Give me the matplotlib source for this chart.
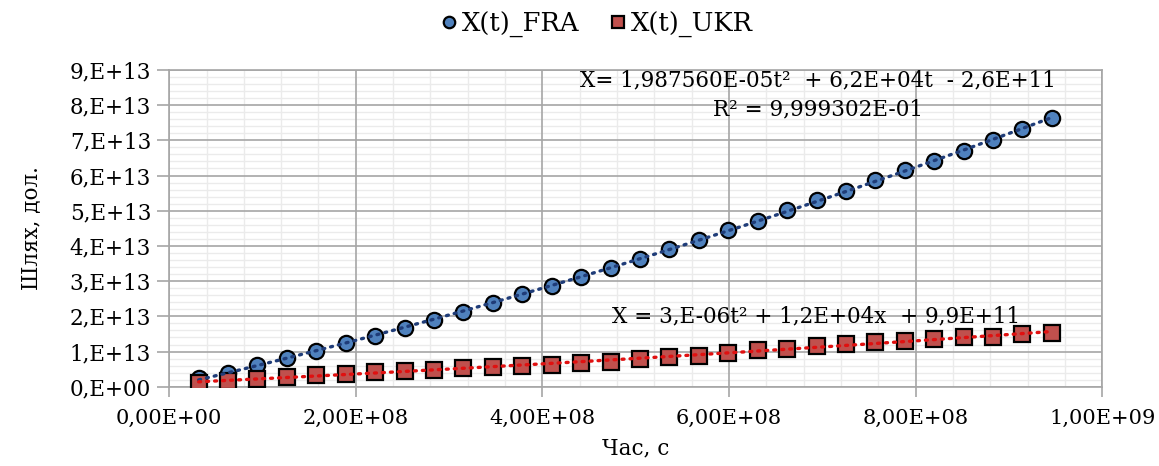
# -*- coding: utf-8 -*-
import numpy as np
import matplotlib
matplotlib.use('Agg')
import matplotlib.pyplot as plt
from matplotlib.ticker import FuncFormatter, MultipleLocator

plt.rcParams['font.family'] = ['DejaVu Serif']
FS = 15.5

#%% data
year_n = np.arange(1, 31)
t_sec = year_n * 31536000.0   # time, s

x_fra = [0.24, 0.40, 0.63, 0.83, 1.02, 1.23, 1.43, 1.66, 1.90, 2.13,
         2.37, 2.63, 2.87, 3.11, 3.36, 3.64, 3.91, 4.17, 4.46, 4.72,
         5.01, 5.30, 5.57, 5.86, 6.15, 6.42, 6.71, 7.00, 7.32, 7.62]
x_ukr = [0.11, 0.16, 0.23, 0.29, 0.33, 0.37, 0.43, 0.46, 0.49, 0.52,
         0.57, 0.60, 0.63, 0.67, 0.71, 0.78, 0.85, 0.88, 0.97, 1.04,
         1.08, 1.16, 1.21, 1.28, 1.31, 1.35, 1.41, 1.42, 1.50, 1.53]
x_fra = np.array(x_fra) * 1e13
x_ukr = np.array(x_ukr) * 1e13

eq_fra = 'X= 1,987560E-05t²  + 6,2E+04t  - 2,6E+11'
r2_fra = 'R² = 9,999302E-01'
eq_ukr = 'X = 3,E-06t² + 1,2E+04x  + 9,9E+11'

#%% plot
fig = plt.figure(figsize=(11.59, 4.66), dpi=100)
ax = fig.add_axes([0.146, 0.170, 0.805, 0.680])

c_fra = '#4F81BD'
c_ukr = '#C0504D'
ax.plot(t_sec, x_fra, 'o', ms=11, mfc=c_fra, mec='black', mew=1.6,
        label='X(t)_FRA', zorder=3)
ax.plot(t_sec, x_ukr, 's', ms=11, mfc=c_ukr, mec='black', mew=1.6,
        label='X(t)_UKR', zorder=3)

# polynomial trendlines
tt = np.linspace(t_sec[0], t_sec[-1], 200)
p_fra = np.polyfit(t_sec, x_fra, 2)
p_ukr = np.polyfit(t_sec, x_ukr, 2)
ax.plot(tt, np.polyval(p_fra, tt), color='#1F3C78', lw=2.4,
        linestyle=(0, (0.6, 1.8)), dash_capstyle='round', zorder=4)
ax.plot(tt, np.polyval(p_ukr, tt), color='#E01010', lw=2.4,
        linestyle=(0, (0.6, 1.8)), dash_capstyle='round', zorder=4)

ax.set_xlim(0, 1e9)
ax.set_ylim(0, 9e13)
ax.xaxis.set_major_locator(MultipleLocator(2e8))
ax.xaxis.set_minor_locator(MultipleLocator(4e7))
ax.yaxis.set_major_locator(MultipleLocator(1e13))
ax.yaxis.set_minor_locator(MultipleLocator(2e12))

def fmt_x(v, pos):
    m, e = ('%.2E' % v).split('E')
    return m.replace('.', ',') + 'E' + e

def fmt_y(v, pos):
    return '%d,E+%02d' % (round(v / 1e13), 13) if v != 0 else '0,E+00'

ax.xaxis.set_major_formatter(FuncFormatter(fmt_x))
ax.yaxis.set_major_formatter(FuncFormatter(fmt_y))

# light minor grid underneath, major grid on top of it
for v in ax.xaxis.get_minorticklocs():
    ax.axvline(v, color='#EBEBEB', lw=1.0, zorder=0.1)
for v in ax.yaxis.get_minorticklocs():
    ax.axhline(v, color='#EBEBEB', lw=1.0, zorder=0.1)
ax.grid(which='major', color='#A6A6A6', lw=1.2)
ax.set_axisbelow(True)
for s in ax.spines.values():
    s.set_color('#A6A6A6')
    s.set_linewidth(1.2)

ax.tick_params(which='major', direction='out', color='#A6A6A6', width=1.2,
               labelcolor='black')
ax.tick_params(axis='y', which='major', length=9, pad=4, labelsize=FS)
ax.tick_params(axis='x', which='major', length=7, pad=9, labelsize=15)
ax.tick_params(which='minor', length=0)

ax.set_xlabel('Час, с', fontsize=FS, labelpad=7)
ax.set_ylabel('Шлях, дол.', fontsize=FS, labelpad=20)

ax.text(0.695, 0.968, eq_fra, transform=ax.transAxes, fontsize=FS,
        ha='center', va='center')
ax.text(0.695, 0.874, r2_fra, transform=ax.transAxes, fontsize=FS,
        ha='center', va='center')
ax.text(0.693, 0.221, eq_ukr, transform=ax.transAxes, fontsize=FS,
        ha='center', va='center', zorder=5)

fig.legend(loc='upper center', bbox_to_anchor=(0.513, 1.025), ncol=2,
           frameon=False, fontsize=18.5, handletextpad=0.0, columnspacing=1.0,
           markerscale=0.75, handlelength=1.0)

fig.savefig('out.png', dpi=100)
